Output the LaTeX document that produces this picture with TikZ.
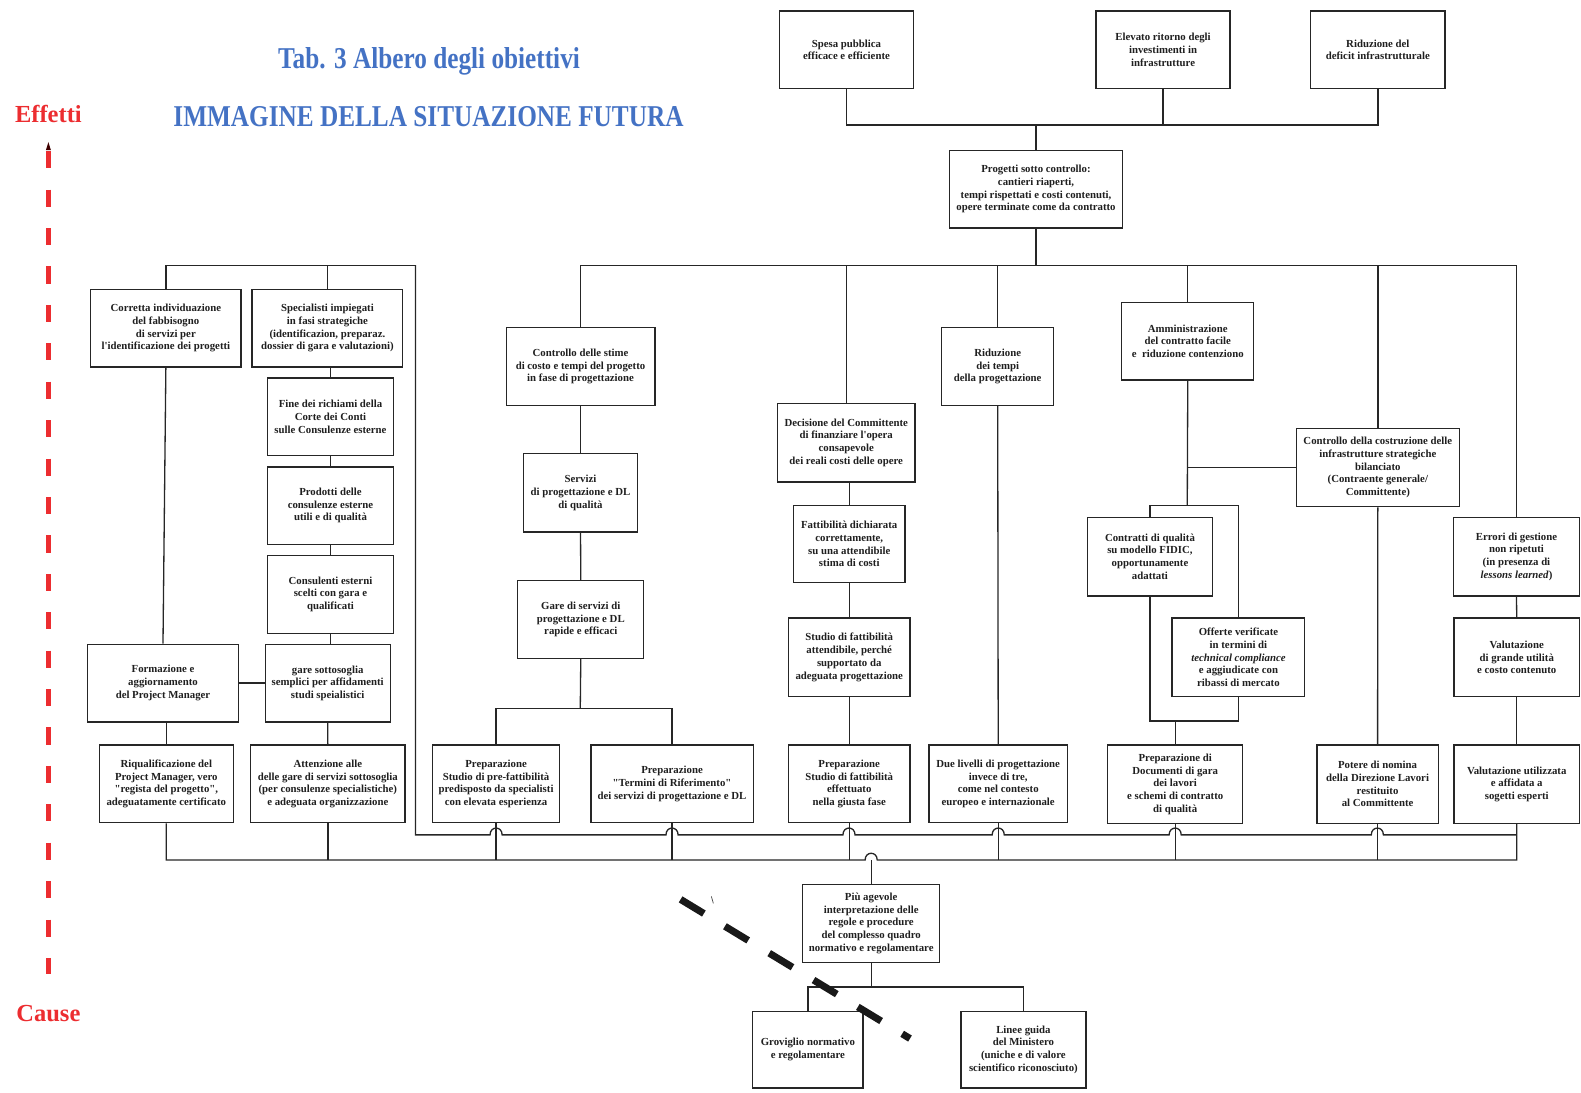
\documentclass[tikz,border=0pt]{standalone}
\usepackage{fontspec}
\setmainfont{Liberation Serif}[Ligatures=TeXOff]
\newfontfamily\titlefont[FakeStretch=0.835]{Liberation Serif}
\definecolor{tblue}{RGB}{68,114,196}
\definecolor{ered}{RGB}{236,45,48}
\newcommand\mybox[6]{\node[box, minimum width={(#4)-(#2)}, minimum height={(#5)-(#3)}] (#1) at ({((#2)+(#4))/2},{((#3)+(#5))/2}) {#6};}
\begin{document}
\begin{tikzpicture}[x=1pt,y=-1pt,
  box/.style={draw=black!85, line width=1.3pt, inner sep=0pt, align=center,
    font=\fontsize{10.7}{12.6}\selectfont\bfseries, text=black!88},
  ln/.style={draw=black!85, line width=1.3pt}]
\useasboundingbox (0,0) rectangle (1568,1084);

% titles and side labels
\node[anchor=base, text=tblue, font=\titlefont\fontsize{30}{34}\selectfont\bfseries] (t1) at (425.5,68) {Tab. 3 Albero degli obiettivi};
\node[anchor=base, text=tblue, font=\titlefont\fontsize{30}{34}\selectfont\bfseries] (t2) at (425,125) {IMMAGINE DELLA SITUAZIONE FUTURA};
\node[anchor=base, text=ered, font=\fontsize{24.3}{28}\selectfont\bfseries] (eff) at (48,121) {Effetti};
\node[anchor=base, text=ered, font=\fontsize{24.3}{28}\selectfont\bfseries] (cau) at (48,1013) {Cause};
\coordinate (rtop) at (48,150);
\coordinate (rbot) at (48,966);
\draw[ered, line width=5.5pt, dash pattern=on 17pt off 21.1pt] (rtop) -- (rbot);
\fill[black!75!red] (48,141) -- (45.5,149) -- (50.5,149) -- cycle;

% top level
\mybox{a1}{773}{11}{906}{88}{Spesa pubblica\\efficace e efficiente}
\mybox{a2}{1087}{11}{1220}{88}{Elevato ritorno degli\\investimenti in\\infrastrutture}
\mybox{a3}{1300}{11}{1433}{88}{Riduzione del\\deficit infrastrutturale}
\mybox{p}{942}{149}{1113}{226}{Progetti sotto controllo:\\cantieri riaperti,\\tempi rispettati e costi contenuti,\\opere terminate come da contratto}

% left group
\mybox{b1}{90}{287}{239}{364}{Corretta individuazione\\del fabbisogno\\di servizi per\\l'identificazione dei progetti}
\mybox{b2}{250}{287}{399.5}{364}{Specialisti impiegati\\in fasi strategiche\\(identificazion, preparaz.\\dossier di gara e valutazioni)}
\mybox{b3}{265.5}{375}{390}{452}{Fine dei richiami della\\Corte dei Conti\\sulle Consulenze esterne}
\mybox{b4}{265.5}{463}{390}{540}{Prodotti delle\\consulenze esterne\\utili e di qualità}
\mybox{b5}{265.5}{551}{390}{628}{Consulenti esterni\\scelti con gara e\\qualificati}
\mybox{b6}{263}{639}{387}{716}{gare sottosoglia\\semplici per affidamenti\\studi speialistici}
\mybox{b7}{86.6}{639}{236.7}{716}{Formazione e\\aggiornamento\\del Project Manager}
\mybox{b8}{98.5}{739}{231.4}{816}{Riqualificazione del\\Project Manager, vero\\"regista del progetto",\\adeguatamente certificato}
\mybox{b9}{248.6}{739}{401.7}{816}{Attenzione alle\\delle gare di servizi sottosoglia\\(per consulenze specialistiche)\\e adeguata organizzazione}

% column C
\mybox{c1}{502}{325}{649.5}{402}{Controllo delle stime\\di costo e tempi del progetto\\in fase di progettazione}
\mybox{c2}{519.5}{450}{632}{527.5}{Servizi\\di progettazione e DL\\di qualità}
\mybox{c3}{513.5}{576}{638.5}{653}{Gare di servizi di\\progettazione e DL\\rapide e efficaci}
\mybox{c4}{429}{739}{555}{816}{Preparazione\\Studio di pre-fattibilità\\predisposto da specialisti\\con elevata esperienza}
\mybox{c5}{586}{739}{747}{816}{Preparazione\\"Termini di Riferimento"\\dei servizi di progettazione e DL}

% column D
\mybox{d1}{771}{400}{907.5}{478}{Decisione del Committente\\di finanziare l'opera\\consapevole\\dei reali costi delle opere}
\mybox{d2}{787}{501}{897.5}{578}{Fattibilità dichiarata\\correttamente,\\su una attendibile\\stima di costi}
\mybox{d3}{782}{613}{902.5}{691}{Studio di fattibilità\\attendibile, perché\\supportato da\\adeguata progettazione}
\mybox{d4}{782}{739}{902.5}{816}{Preparazione\\Studio di fattibilità\\effettuato\\nella giusta fase}

% column E
\mybox{e1}{934}{325}{1045}{402}{Riduzione\\dei tempi\\della progettazione}
\mybox{e2}{921.5}{739}{1058.5}{816}{Due livelli di progettazione\\invece di tre,\\come nel contesto\\europeo e internazionale}

% column F
\mybox{f1}{1112.5}{300}{1243.5}{377}{Amministrazione\\del contratto facile\\e\ \ riduzione contenziono}
\mybox{f2}{1285.5}{425}{1447.5}{502.5}{Controllo della costruzione delle\\infrastrutture strategiche\\bilanciato\\(Contraente generale/\\Committente)}
\mybox{f3}{1078.5}{513}{1202.5}{591}{Contratti di qualità\\su modello FIDIC,\\opportunamente\\adattati}
\mybox{f4}{1162.5}{613}{1294}{691}{Offerte verificate\\in termini di\\\textit{technical compliance}\\e aggiudicate con\\ribassi di mercato}
\mybox{f5}{1098.5}{739}{1232.5}{816.5}{Preparazione di\\Documenti di gara\\dei lavori\\e schemi di contratto\\di qualità}
\mybox{f6}{1306}{739}{1426.5}{816.5}{Potere di nomina\\della Direzione Lavori\\restituito\\al Committente}

% column G
\mybox{g1}{1441.5}{513}{1566.5}{591}{Errori di gestione\\non ripetuti\\(in presenza di\\\textit{lessons learned})}
\mybox{g2}{1442}{613}{1566.5}{691}{Valutazione\\di grande utilità\\e costo contenuto}
\mybox{g3}{1442}{739}{1566.5}{816.5}{Valutazione utilizzata\\e affidata a\\sogetti esperti}

% bottom
\mybox{h}{796}{877}{932}{954.5}{Più agevole\\interpretazione delle\\regole e procedure\\del complesso quadro\\normativo e regolamentare}
\mybox{i1}{746.5}{1003}{856}{1079}{Groviglio normativo\\e regolamentare}
\mybox{i2}{953}{1003}{1077}{1079}{Linee guida\\del Ministero\\(uniche e di valore\\scientifico riconosciuto)}

% ---- connectors ----
\coordinate (tb) at (1027.5,124);
\draw[ln] (a1.south) |- (a3.south |- tb) -- (a3.south);
\draw[ln] (a2.south) -- (a2.south |- tb);
\draw[ln] (p.north) -- (p.north |- tb);

\coordinate (mb) at (1027.5,263);
\draw[ln] (c1.north) |- (g1.north |- mb) -- (g1.north);
\draw[ln] (p.south) -- (p.south |- mb);
\foreach \n in {d1,e1,f1,f2} \draw[ln] (\n.north) -- (\n.north |- mb);

% left group
\coordinate (lt) at (412,263);
\draw[ln] (b1.north) |- (lt);
\draw[ln] (b2.north) -- (b2.north |- lt);
\draw[ln] (b3.north) -- (b3.north |- b2.south);
\draw[ln] (b3.south) -- (b4.north);
\draw[ln] (b4.south) -- (b5.north);
\draw[ln] (b5.south) -- (b5.south |- b6.north);
\draw[ln] (b1.south) -- (b7.north);
\draw[ln] (b7.east) -- (b6.west);
\draw[ln] (b8.north) -- (b8.north |- b7.south);
\draw[ln] (b6.south) -- (b9.north);

% column C
\draw[ln] (c1.south) -- (c2.north);
\draw[ln] (c2.south) -- (c3.north);
\coordinate (cj) at (575.5,702.5);
\draw[ln] (c3.south) -- (cj);
\draw[ln] (c4.north) |- (c5.north |- cj) -- (c5.north);

% column D
\draw[ln] (d2.north) -- (d2.north |- d1.south);
\draw[ln] (d2.south) -- (d3.north);
\draw[ln] (d3.south) -- (d4.north);

% column E
\draw[ln] (e1.south) -- (e2.north);

% column F
\coordinate (fj) at (1177.5,501);
\draw[ln] (f1.south) -- (fj);
\draw[ln] (f2.west) -- (f2.west -| f1.south);
\draw[ln] (f3.north) |- (f4.north |- fj) -- (f4.north);
\coordinate (fk) at (1165.5,715);
\draw[ln] (f3.south) |- (f4.south |- fk) -- (f4.south);
\draw[ln] (f5.north) -- (f5.north |- fk);
\draw[ln] (f2.south) -- (f6.north);

% column G
\draw[ln] (g1.south) -- (g2.north);
\draw[ln] (g2.south) -- (g3.north);

% upper line with hops
\coordinate (ur) at (1504.25,828);
\draw[ln] (lt) -- (412,828)
  -- (486,828) .. controls (486,819) and (498,819) .. (498,828)
  -- (660.5,828) .. controls (660.5,819) and (672.5,819) .. (672.5,828)
  -- (836,828) .. controls (836,819) and (848,819) .. (848,828)
  -- (984,828) .. controls (984,819) and (996,819) .. (996,828)
  -- (1159.5,828) .. controls (1159.5,819) and (1171.5,819) .. (1171.5,828)
  -- (1360,828) .. controls (1360,819) and (1372,819) .. (1372,828)
  -- (ur);

% lower bus
\coordinate (lb) at (864,853);
\draw[ln] (b8.south) -- (b8.south |- lb) -- (858,853) .. controls (858,844) and (870,844) .. (870,853) -- (g3.south |- lb) -- (g3.south);
\foreach \n in {b9,c4,c5,d4,e2,f5,f6} \draw[ln] (\n.south) -- (\n.south |- lb);
\draw[ln] (h.north) -- (lb);

% bottom branch
\coordinate (hj) at (864,979);
\draw[ln] (h.south) -- (hj);
\draw[ln] (i1.north) |- (i2.north |- hj) -- (i2.north);

% dashed diagonal stroke
\coordinate (ds) at (675,892);
\coordinate (de) at (902.5,1030);
\draw[black!90, line width=7pt, dash pattern=on 27pt off 24.4pt] (ds) -- (de);
\draw[black!70, line width=0.7pt] (705.5,889) -- (707.5,896);
\end{tikzpicture}
\end{document}
